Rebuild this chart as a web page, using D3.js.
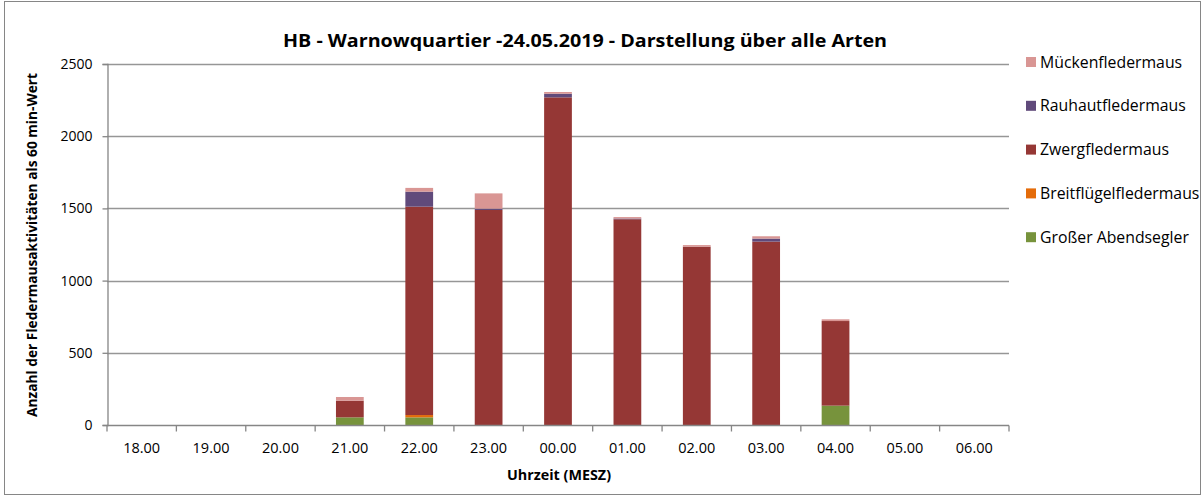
<!DOCTYPE html>
<html>
<head>
<meta charset="utf-8">
<script src="https://cdn.jsdelivr.net/npm/d3@7"></script>
<style>
  body { margin: 0; background: #fff; }
  svg text { font-family: "Open Sans", Lato, sans-serif; fill: #000; }
</style>
</head>
<body>
<svg id="chart" width="1203" height="497"></svg>
<script>
(function () {
    // categories (Uhrzeit)
    const hours = ["18.00", "19.00", "20.00", "21.00", "22.00", "23.00", "00.00",
                   "01.00", "02.00", "03.00", "04.00", "05.00", "06.00"];
    // series values, bottom to top of the stack
    const abendsegler = [0, 0, 0, 53, 53, 0, 0, 0, 0, 0, 134, 0, 0];
    const breitfluegel = [0, 0, 0, 0, 16, 0, 0, 0, 0, 0, 0, 0, 0];
    const zwerg = [0, 0, 0, 115, 1443, 1489, 2269, 1425, 1235, 1270, 586, 0, 0];
    const rauhaut = [0, 0, 0, 0, 104, 9, 25, 5, 0, 21, 0, 0, 0];
    const muecken = [0, 0, 0, 26, 26, 106, 12, 10, 11, 16, 12, 0, 0];
    const yTicks = [0, 500, 1000, 1500, 2000, 2500];

    const series = [
        { name: "Großer Abendsegler", values: abendsegler, color: "#77933C" },
        { name: "Breitflügelfledermaus", values: breitfluegel, color: "#E46C0A" },
        { name: "Zwergfledermaus", values: zwerg, color: "#953735" },
        { name: "Rauhautfledermaus", values: rauhaut, color: "#604A7B" },
        { name: "Mückenfledermaus", values: muecken, color: "#D99694" }
    ];

    const svg = d3.select("#chart");
    const left = 107, right = 1009, top = 64, bottom = 425;

    // outer border of chart
    svg.append("rect")
        .attr("x", 4.5).attr("y", 1.5)
        .attr("width", 1196).attr("height", 493)
        .attr("fill", "#fff").attr("stroke", "#868686");

    const x = d3.scaleBand().domain(hours).range([left, right]).paddingInner(0.6).paddingOuter(0.3);
    const xb = d3.scaleBand().domain(hours).range([left, right]);
    const y = d3.scaleLinear().domain([0, 2500]).range([bottom, top]);

    // gridlines
    svg.append("g").selectAll("line").data(yTicks.slice(1)).enter()
        .append("line")
        .attr("x1", left).attr("x2", right)
        .attr("y1", function (d) { return Math.round(y(d)) + 0.5; })
        .attr("y2", function (d) { return Math.round(y(d)) + 0.5; })
        .attr("stroke", "#969696").attr("stroke-width", 1.3);

    // stacked bars
    const table = hours.map(function (h, i) {
        const row = { hour: h };
        series.forEach(function (s) { row[s.name] = s.values[i]; });
        return row;
    });
    const stack = d3.stack().keys(series.map(function (s) { return s.name; }))(table);

    svg.append("g").selectAll("g").data(stack).enter()
        .append("g")
        .attr("fill", function (d, i) { return series[i].color; })
        .selectAll("rect").data(function (d) { return d; }).enter()
        .append("rect")
        .attr("x", function (d) { return x(d.data.hour); })
        .attr("width", x.bandwidth())
        .attr("y", function (d) { return y(d[1]); })
        .attr("height", function (d) { return y(d[0]) - y(d[1]); });

    // y axis
    const yAxis = svg.append("g")
        .attr("transform", "translate(" + (left + 0.5) + ",0)")
        .call(d3.axisLeft(y).tickValues(yTicks).tickFormat(d3.format("d")).tickSize(5).tickPadding(10));
    yAxis.select(".domain").attr("stroke", "#868686").attr("stroke-width", 1.3);
    yAxis.selectAll(".tick line").attr("stroke", "#868686").attr("stroke-width", 1.3);
    yAxis.selectAll(".tick text").attr("font-size", 14).attr("font-family", null);

    // x axis, ticks between categories
    const xAxisG = svg.append("g").attr("transform", "translate(0," + (bottom + 0.5) + ")");
    xAxisG.append("line").attr("x1", left).attr("x2", right)
        .attr("stroke", "#868686").attr("stroke-width", 1.3);
    xAxisG.selectAll("line.tk").data(hours.concat(["end"])).enter()
        .append("line").attr("class", "tk")
        .attr("x1", function (d, i) { return left + i * xb.bandwidth(); })
        .attr("x2", function (d, i) { return left + i * xb.bandwidth(); })
        .attr("y1", 0).attr("y2", 6)
        .attr("stroke", "#868686").attr("stroke-width", 1.3);
    xAxisG.selectAll("text").data(hours).enter()
        .append("text")
        .attr("x", function (d) { return xb(d) + xb.bandwidth() / 2; })
        .attr("y", 27)
        .attr("text-anchor", "middle")
        .attr("font-size", 14.5)
        .text(function (d) { return d; });

    // title
    svg.append("text")
        .attr("x", 585).attr("y", 47)
        .attr("text-anchor", "middle")
        .attr("font-size", 18).attr("font-weight", "bold")
        .attr("textLength", 604).attr("lengthAdjust", "spacingAndGlyphs")
        .text("HB - Warnowquartier -24.05.2019 - Darstellung über alle Arten");

    // axis titles
    svg.append("text")
        .attr("x", 559).attr("y", 480)
        .attr("text-anchor", "middle")
        .attr("font-size", 14).attr("font-weight", "bold")
        .attr("textLength", 104).attr("lengthAdjust", "spacingAndGlyphs")
        .text("Uhrzeit (MESZ)");
    svg.append("text")
        .attr("transform", "translate(37,245) rotate(-90)")
        .attr("text-anchor", "middle")
        .attr("font-size", 14).attr("font-weight", "bold")
        .attr("textLength", 344).attr("lengthAdjust", "spacingAndGlyphs")
        .text("Anzahl der  Fledermausaktivitäten  als 60 min-Wert");

    // legend, top entry is the top of the stack
    const legend = svg.append("g").selectAll("g").data(series.slice().reverse()).enter()
        .append("g")
        .attr("transform", function (d, i) { return "translate(1026," + (62 + i * 43.8) + ")"; });
    legend.append("rect")
        .attr("x", 0).attr("y", -5).attr("width", 10).attr("height", 10)
        .attr("fill", function (d) { return d.color; });
    legend.append("text")
        .attr("x", 14).attr("y", 5.5)
        .attr("font-size", 15.8)
        .text(function (d) { return d.name; });
})();
</script>
</body>
</html>
